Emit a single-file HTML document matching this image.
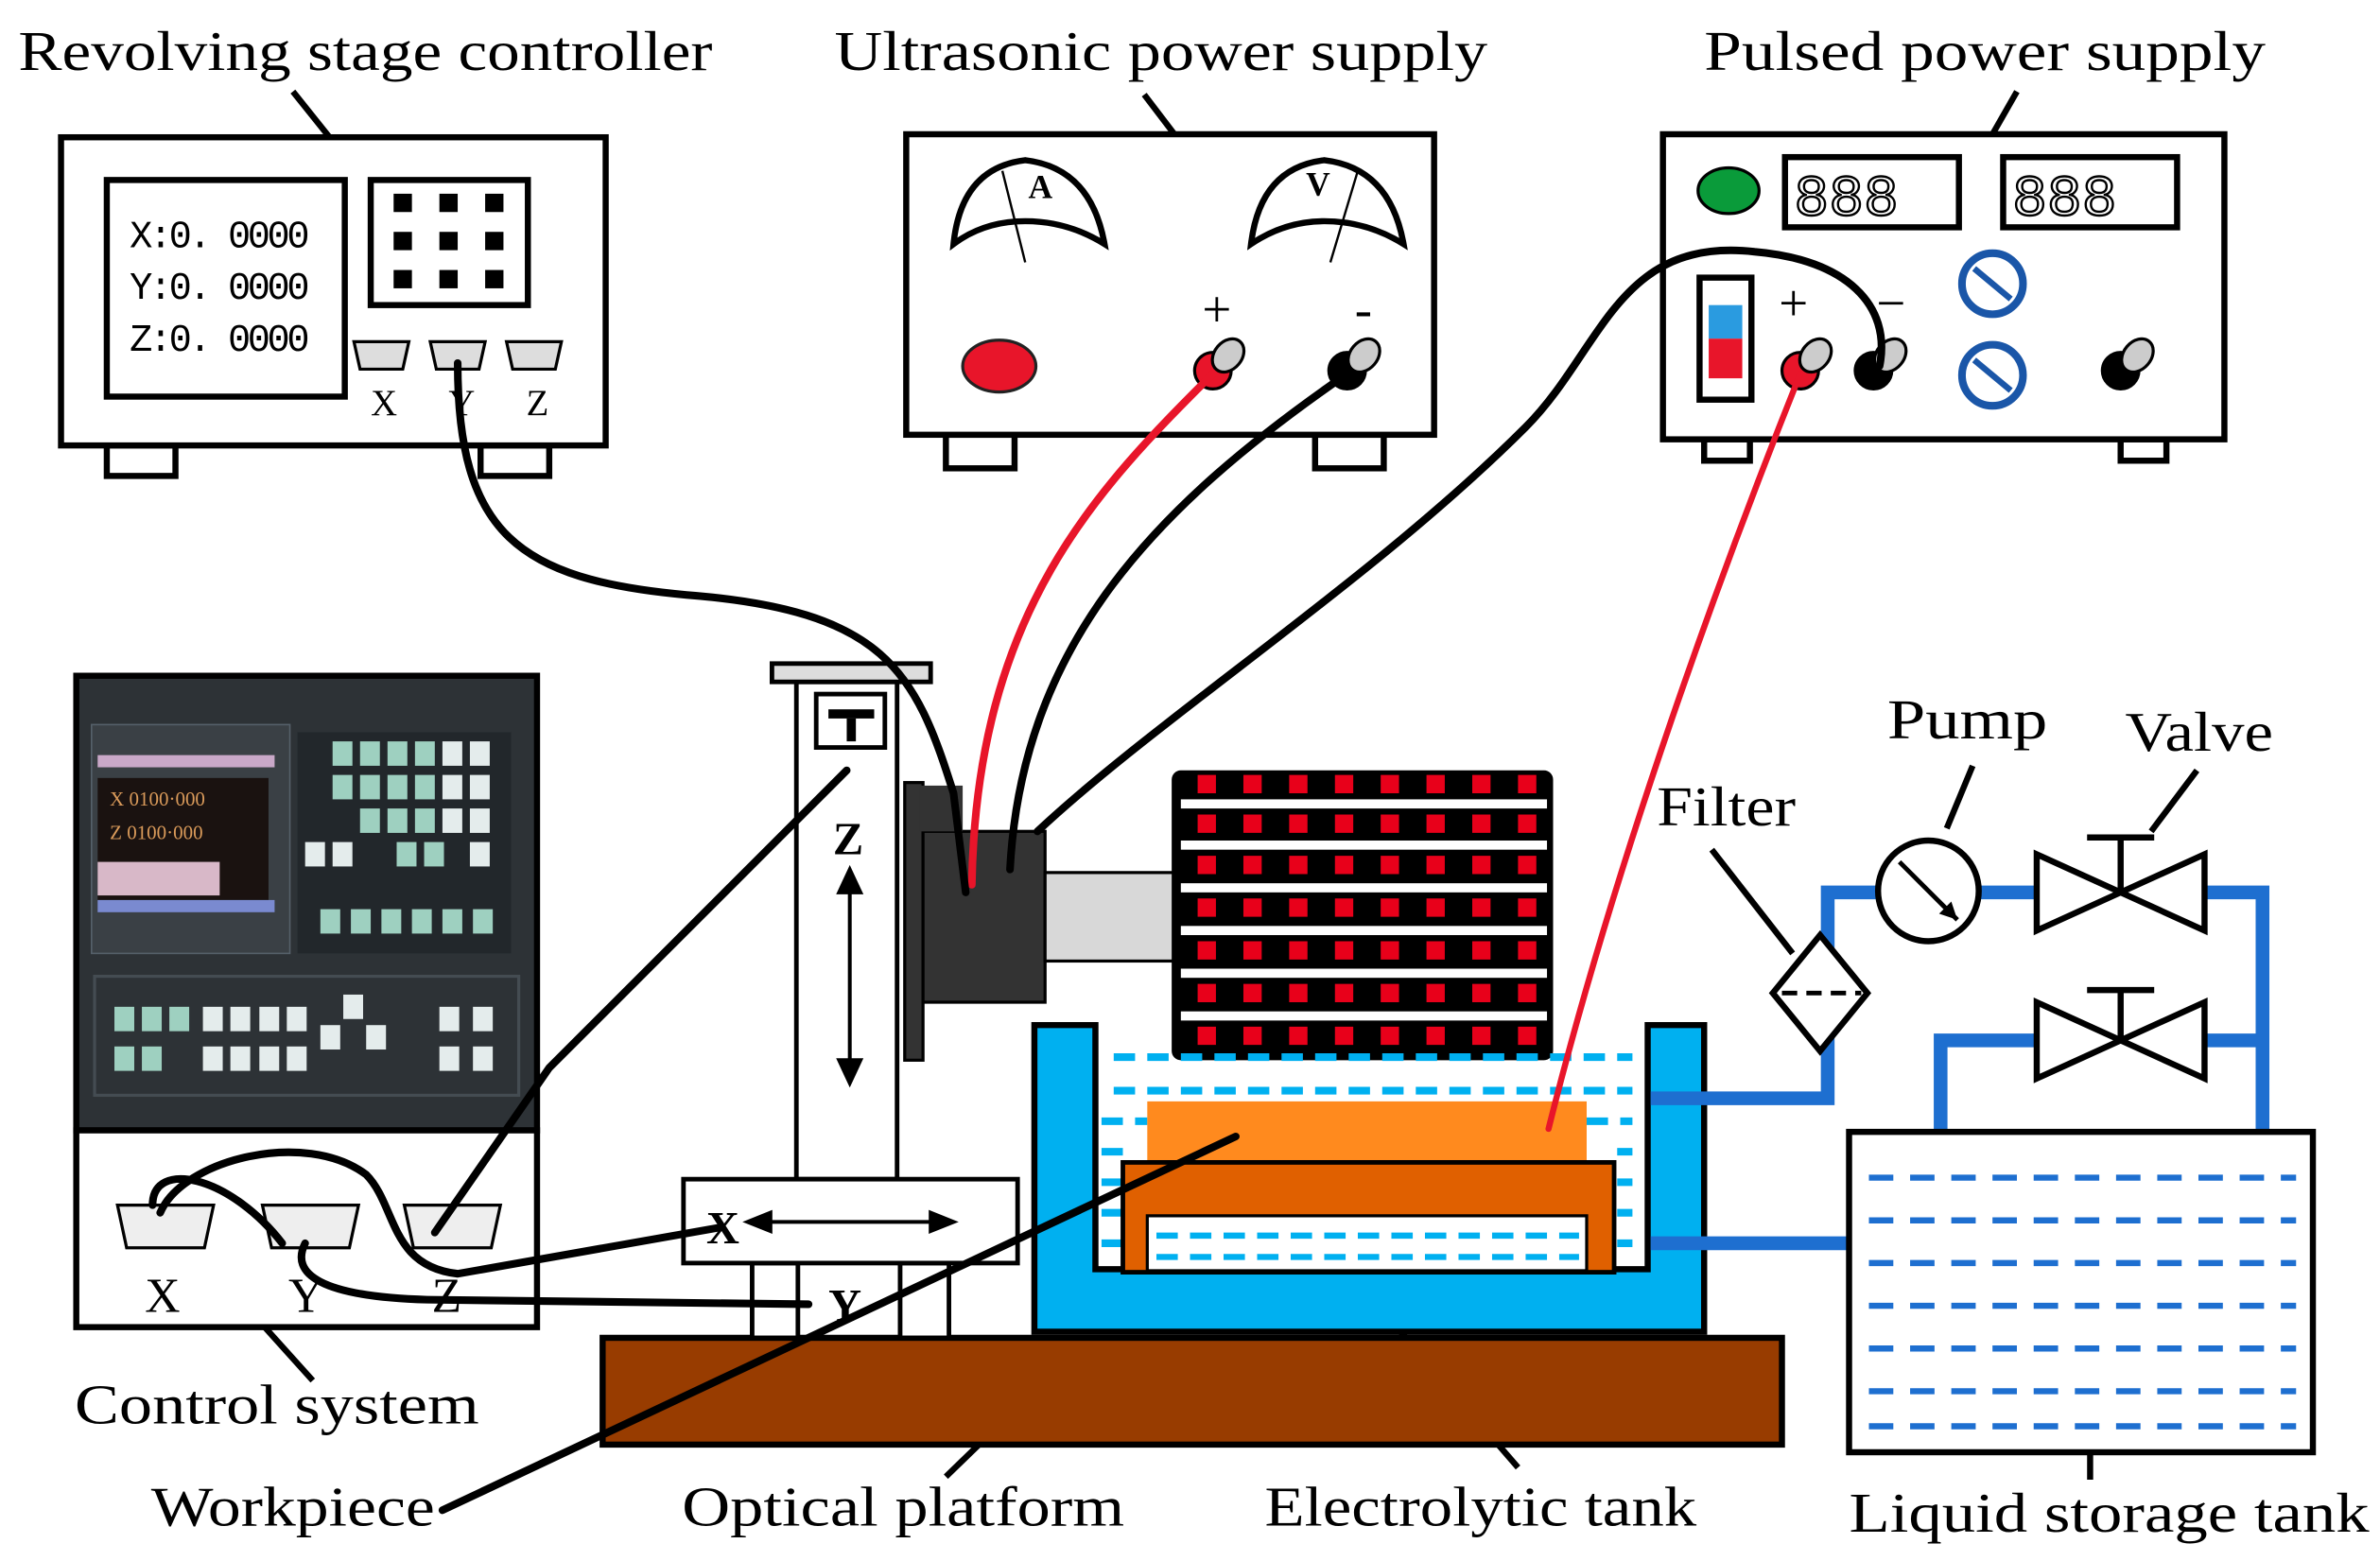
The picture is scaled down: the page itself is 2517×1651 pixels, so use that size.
<!DOCTYPE html>
<html><head><meta charset="utf-8"><style>
html,body{margin:0;padding:0;background:#fff;}
svg{display:block;}
text{font-family:"Liberation Serif",serif;}
</style></head><body>
<svg width="2517" height="1651" viewBox="0 0 1560 1023.3" preserveAspectRatio="none" xmlns="http://www.w3.org/2000/svg">
<rect width="1560" height="1024" fill="#fff"/>
<!-- Labels -->
<g font-size="37" fill="#000">
<text x="12" y="46" textLength="455" lengthAdjust="spacingAndGlyphs">Revolving stage controller</text>
<text x="547" y="46" textLength="428" lengthAdjust="spacingAndGlyphs">Ultrasonic power supply</text>
<text x="1117" y="46" textLength="368" lengthAdjust="spacingAndGlyphs">Pulsed power supply</text>
<text x="49" y="933" textLength="265" lengthAdjust="spacingAndGlyphs">Control system</text>
<text x="99" y="1000" textLength="186" lengthAdjust="spacingAndGlyphs">Workpiece</text>
<text x="447" y="1000" textLength="290" lengthAdjust="spacingAndGlyphs">Optical platform</text>
<text x="829" y="1000" textLength="283" lengthAdjust="spacingAndGlyphs">Electrolytic tank</text>
<text x="1212" y="1004" textLength="341" lengthAdjust="spacingAndGlyphs">Liquid storage tank</text>
<text x="1086" y="541" textLength="91" lengthAdjust="spacingAndGlyphs">Filter</text>
<text x="1237" y="484" textLength="105" lengthAdjust="spacingAndGlyphs">Pump</text>
<text x="1393" y="492" textLength="97" lengthAdjust="spacingAndGlyphs">Valve</text>
</g>
<g stroke="#000" stroke-width="4" fill="none">
<line x1="192" y1="60" x2="228" y2="105"/>
<line x1="750" y1="62" x2="785" y2="108"/>
<line x1="1322" y1="60" x2="1298" y2="102"/>
<line x1="160" y1="855" x2="205" y2="905"/>
<line x1="620" y1="968" x2="685" y2="905"/>
<line x1="995" y1="962" x2="898" y2="850"/>
<line x1="1370" y1="970" x2="1370" y2="922"/>
<line x1="1175" y1="625" x2="1122" y2="557"/>
<line x1="1276" y1="543" x2="1293" y2="502"/>
<line x1="1410" y1="545" x2="1440" y2="505"/>
</g>
<!-- Revolving stage controller -->
<g stroke="#000" stroke-width="4" fill="#fff">
<rect x="70" y="292" width="45" height="20"/><rect x="315" y="292" width="45" height="20"/>
<rect x="40" y="90" width="357" height="202"/>
<rect x="70" y="118" width="156" height="142"/>
<rect x="243" y="118" width="103" height="82"/>
</g>
<g fill="#000">
<rect x="258" y="127" width="12" height="12"/><rect x="288" y="127" width="12" height="12"/><rect x="318" y="127" width="12" height="12"/>
<rect x="258" y="152" width="12" height="12"/><rect x="288" y="152" width="12" height="12"/><rect x="318" y="152" width="12" height="12"/>
<rect x="258" y="177" width="12" height="12"/><rect x="288" y="177" width="12" height="12"/><rect x="318" y="177" width="12" height="12"/>
</g>
<g font-size="25" fill="#000">
<text x="85" y="162" textLength="118" style="font-family:'Liberation Mono',monospace">X:0. 0000</text>
<text x="85" y="196" textLength="118" style="font-family:'Liberation Mono',monospace">Y:0. 0000</text>
<text x="85" y="230" textLength="118" style="font-family:'Liberation Mono',monospace">Z:0. 0000</text>
</g>
<g fill="#ddd" stroke="#000" stroke-width="2">
<path d="M232 224 h36 l-4 18 h-28z"/><path d="M282 224 h36 l-4 18 h-28z"/><path d="M332 224 h36 l-4 18 h-28z"/>
</g>
<g font-size="24"><text x="243" y="272">X</text><text x="345" y="272">Z</text><text x="294" y="272">Y</text></g>
<!-- Ultrasonic PSU -->
<g stroke="#000" stroke-width="4" fill="#fff">
<rect x="620" y="285" width="45" height="22"/><rect x="862" y="285" width="45" height="22"/>
<rect x="594" y="88" width="346" height="197"/>
<path d="M625 160 Q630 110 672 105 Q715 110 724 160 Q700 145 672 145 Q645 145 625 160z"/>
<path d="M820 160 Q826 110 868 105 Q911 110 920 160 Q896 145 868 145 Q842 145 820 160z"/>
</g>
<g stroke="#000" stroke-width="1.5"><line x1="672" y1="172" x2="657" y2="112"/><line x1="872" y1="172" x2="890" y2="112"/></g>
<text x="674" y="130" font-size="22" font-weight="bold">A</text><text x="856" y="128" font-size="22" font-weight="bold">V</text>
<ellipse cx="655" cy="240" rx="24" ry="17" fill="#e8152a" stroke="#222" stroke-width="2"/>
<text x="788" y="214" font-size="34">+</text><text x="888" y="214" font-size="34">-</text>
<!-- Pulsed PSU -->
<g stroke="#000" stroke-width="4" fill="#fff">
<rect x="1117" y="288" width="30" height="14"/><rect x="1390" y="288" width="30" height="14"/>
<rect x="1090" y="88" width="368" height="200"/>
<rect x="1170" y="103" width="114" height="46"/><rect x="1313" y="103" width="114" height="46"/>
<rect x="1114" y="182" width="34" height="80"/>
</g>
<g font-size="38" fill="none" stroke="#000" stroke-width="1.5">
<text x="1176" y="141" style="font-family:'Liberation Mono',monospace">888</text>
<text x="1319" y="141" style="font-family:'Liberation Mono',monospace">888</text>
</g>
<rect x="1120" y="200" width="22" height="22" fill="#2a9be0"/><rect x="1120" y="222" width="22" height="26" fill="#e8152a"/>
<ellipse cx="1133" cy="125" rx="20" ry="15" fill="#0a9b3a" stroke="#000" stroke-width="2"/>
<text x="1166" y="210" font-size="34">+</text><text x="1230" y="210" font-size="34">−</text>
<g fill="#fff" stroke="#1a56a8" stroke-width="5">
<circle cx="1306" cy="186" r="20"/><circle cx="1306" cy="246" r="20"/>
</g>
<g stroke="#1a56a8" stroke-width="4"><line x1="1294" y1="176" x2="1318" y2="196"/><line x1="1294" y1="236" x2="1318" y2="256"/></g>
<!-- terminals -->
<g stroke="#000" stroke-width="2">
<ellipse cx="795" cy="243" rx="12" ry="12" fill="#e8152a"/><ellipse cx="805" cy="233" rx="9" ry="12" fill="#ccc" transform="rotate(40 805 233)"/>
<ellipse cx="883" cy="243" rx="12" ry="12" fill="#000"/><ellipse cx="894" cy="233" rx="9" ry="12" fill="#ccc" transform="rotate(40 894 233)"/>
<ellipse cx="1180" cy="243" rx="12" ry="12" fill="#e8152a"/><ellipse cx="1190" cy="233" rx="9" ry="12" fill="#ccc" transform="rotate(40 1190 233)"/>
<ellipse cx="1228" cy="243" rx="12" ry="12" fill="#000"/><ellipse cx="1239" cy="233" rx="9" ry="12" fill="#ccc" transform="rotate(40 1239 233)"/>
<ellipse cx="1390" cy="243" rx="12" ry="12" fill="#000"/><ellipse cx="1401" cy="233" rx="9" ry="12" fill="#ccc" transform="rotate(40 1401 233)"/>
</g>
<!-- Control system -->
<rect x="50" y="443" width="302" height="298" fill="#2d3236" stroke="#000" stroke-width="4"/>
<rect x="60" y="475" width="130" height="150" fill="#3a4045" stroke="#55606a"/>
<rect x="64" y="510" width="112" height="80" fill="#1a1210"/>
<text x="72" y="528" font-size="13" fill="#d99a5a">X  0100·000</text><text x="72" y="550" font-size="13" fill="#d99a5a">Z  0100·000</text>
<rect x="64" y="565" width="80" height="22" fill="#d8b8c8"/>
<rect x="64" y="495" width="116" height="8" fill="#c9a8c8"/>
<rect x="64" y="590" width="116" height="8" fill="#7a8ad0"/>
<rect x="195" y="480" width="140" height="145" fill="#22272b"/>
<g fill="#9ed0c0"><rect x="218" y="486" width="13" height="16"/><rect x="236" y="486" width="13" height="16"/><rect x="254" y="486" width="13" height="16"/><rect x="272" y="486" width="13" height="16"/>
<rect x="218" y="508" width="13" height="16"/><rect x="236" y="508" width="13" height="16"/><rect x="254" y="508" width="13" height="16"/><rect x="272" y="508" width="13" height="16"/>
<rect x="236" y="530" width="13" height="16"/><rect x="254" y="530" width="13" height="16"/><rect x="272" y="530" width="13" height="16"/>
<rect x="260" y="552" width="13" height="16"/><rect x="278" y="552" width="13" height="16"/>
<rect x="210" y="596" width="13" height="16"/><rect x="230" y="596" width="13" height="16"/><rect x="250" y="596" width="13" height="16"/><rect x="270" y="596" width="13" height="16"/><rect x="290" y="596" width="13" height="16"/><rect x="310" y="596" width="13" height="16"/>
<rect x="75" y="660" width="13" height="16"/><rect x="93" y="660" width="13" height="16"/><rect x="111" y="660" width="13" height="16"/><rect x="75" y="686" width="13" height="16"/><rect x="93" y="686" width="13" height="16"/></g>
<g fill="#e4ecec"><rect x="290" y="486" width="13" height="16"/><rect x="308" y="486" width="13" height="16"/><rect x="290" y="508" width="13" height="16"/><rect x="308" y="508" width="13" height="16"/><rect x="290" y="530" width="13" height="16"/><rect x="308" y="530" width="13" height="16"/><rect x="200" y="552" width="13" height="16"/><rect x="218" y="552" width="13" height="16"/><rect x="308" y="552" width="13" height="16"/>
<rect x="133" y="660" width="13" height="16"/><rect x="151" y="660" width="13" height="16"/><rect x="170" y="660" width="13" height="16"/><rect x="188" y="660" width="13" height="16"/><rect x="225" y="652" width="13" height="16"/><rect x="288" y="660" width="13" height="16"/><rect x="310" y="660" width="13" height="16"/><rect x="210" y="672" width="13" height="16"/><rect x="240" y="672" width="13" height="16"/>
<rect x="133" y="686" width="13" height="16"/><rect x="151" y="686" width="13" height="16"/><rect x="170" y="686" width="13" height="16"/><rect x="188" y="686" width="13" height="16"/><rect x="288" y="686" width="13" height="16"/><rect x="310" y="686" width="13" height="16"/></g>
<rect x="62" y="640" width="278" height="78" fill="none" stroke="#444c52" stroke-width="2"/>
<rect x="50" y="741" width="302" height="129" fill="#fff" stroke="#000" stroke-width="4"/>
<g fill="#eee" stroke="#000" stroke-width="2">
<path d="M77 790 h63 l-6 28 h-51z"/><path d="M172 790 h63 l-6 28 h-51z"/><path d="M265 790 h63 l-6 28 h-51z"/>
</g>
<g font-size="32"><text x="95" y="860">X</text><text x="189" y="860">Y</text><text x="283" y="860">Z</text></g>
<!-- Optical platform -->
<rect x="395" y="877" width="773" height="70" fill="#983c00" stroke="#000" stroke-width="4"/>
<!-- Z column -->
<g stroke="#000" stroke-width="3" fill="#fff">
<rect x="493" y="828" width="30" height="49"/><rect x="590" y="828" width="32" height="49"/>
<rect x="522" y="447" width="66" height="326"/>
<rect x="506" y="435" width="104" height="12" fill="#ddd"/>
<rect x="535" y="455" width="45" height="35"/>
<rect x="448" y="773" width="219" height="55"/>
</g>
<rect x="543" y="465" width="30" height="6" fill="#000"/><rect x="555" y="471" width="6" height="15" fill="#000"/>
<text x="546" y="560" font-size="30" font-weight="bold">Z</text>
<g stroke="#000" stroke-width="2.5" fill="#000">
<line x1="557" y1="580" x2="557" y2="700"/><path d="M550 585 L557 570 L564 585z"/><path d="M550 695 L557 710 L564 695z"/>
<line x1="500" y1="801" x2="615" y2="801"/><path d="M505 795 L490 801 L505 807z"/><path d="M610 795 L625 801 L610 807z"/>
</g>
<text x="463" y="815" font-size="30" font-weight="bold">X</text>
<text x="543" y="866" font-size="30" font-weight="bold">Y</text>
<!-- Transducer -->
<rect x="593" y="513" width="12" height="182" fill="#333" stroke="#000" stroke-width="2"/>
<rect x="605" y="545" width="80" height="112" fill="#333" stroke="#000" stroke-width="2"/>
<rect x="603" y="515" width="28" height="30" fill="#333"/>
<rect x="685" y="572" width="85" height="58" fill="#d8d8d8" stroke="#000" stroke-width="2"/>
<rect x="768" y="505" width="250" height="190" fill="#000" rx="6"/>
<g fill="#fff">
<rect x="774" y="524" width="240" height="6"/><rect x="774" y="551" width="240" height="6"/><rect x="774" y="579" width="240" height="6"/><rect x="774" y="607" width="240" height="6"/><rect x="774" y="635" width="240" height="6"/><rect x="774" y="663" width="240" height="6"/>
</g>
<g fill="#e8001a">
<path d="M785 508 h12 v12 h-12z M815 508 h12 v12 h-12z M845 508 h12 v12 h-12z M875 508 h12 v12 h-12z M905 508 h12 v12 h-12z M935 508 h12 v12 h-12z M965 508 h12 v12 h-12z M995 508 h12 v12 h-12z"/>
<path d="M785 534 h12 v12 h-12z M815 534 h12 v12 h-12z M845 534 h12 v12 h-12z M875 534 h12 v12 h-12z M905 534 h12 v12 h-12z M935 534 h12 v12 h-12z M965 534 h12 v12 h-12z M995 534 h12 v12 h-12z"/>
<path d="M785 561 h12 v12 h-12z M815 561 h12 v12 h-12z M845 561 h12 v12 h-12z M875 561 h12 v12 h-12z M905 561 h12 v12 h-12z M935 561 h12 v12 h-12z M965 561 h12 v12 h-12z M995 561 h12 v12 h-12z"/>
<path d="M785 589 h12 v12 h-12z M815 589 h12 v12 h-12z M845 589 h12 v12 h-12z M875 589 h12 v12 h-12z M905 589 h12 v12 h-12z M935 589 h12 v12 h-12z M965 589 h12 v12 h-12z M995 589 h12 v12 h-12z"/>
<path d="M785 617 h12 v12 h-12z M815 617 h12 v12 h-12z M845 617 h12 v12 h-12z M875 617 h12 v12 h-12z M905 617 h12 v12 h-12z M935 617 h12 v12 h-12z M965 617 h12 v12 h-12z M995 617 h12 v12 h-12z"/>
<path d="M785 645 h12 v12 h-12z M815 645 h12 v12 h-12z M845 645 h12 v12 h-12z M875 645 h12 v12 h-12z M905 645 h12 v12 h-12z M935 645 h12 v12 h-12z M965 645 h12 v12 h-12z M995 645 h12 v12 h-12z"/>
<path d="M785 673 h12 v12 h-12z M815 673 h12 v12 h-12z M845 673 h12 v12 h-12z M875 673 h12 v12 h-12z M905 673 h12 v12 h-12z M935 673 h12 v12 h-12z M965 673 h12 v12 h-12z M995 673 h12 v12 h-12z"/>
</g>
<!-- Electrolytic tank -->
<path d="M678 672 h40 v160 h362 v-160 h37 v201 h-439z" fill="#00b0f0" stroke="#000" stroke-width="4"/>
<g stroke="#00b0f0" stroke-width="5" stroke-dasharray="14 8">
<line x1="730" y1="693" x2="1070" y2="693"/><line x1="730" y1="715" x2="1070" y2="715"/>
<line x1="722" y1="735" x2="752" y2="735"/><line x1="1040" y1="735" x2="1070" y2="735"/>
<line x1="722" y1="755" x2="736" y2="755"/><line x1="1060" y1="755" x2="1070" y2="755"/>
<line x1="722" y1="775" x2="736" y2="775"/><line x1="1060" y1="775" x2="1070" y2="775"/>
<line x1="722" y1="795" x2="736" y2="795"/><line x1="1060" y1="795" x2="1070" y2="795"/>
<line x1="722" y1="815" x2="736" y2="815"/><line x1="1060" y1="815" x2="1070" y2="815"/>
</g>
<rect x="752" y="722" width="288" height="40" fill="#ff8a1e"/>
<rect x="736" y="762" width="322" height="72" fill="#e06000" stroke="#000" stroke-width="3"/>
<rect x="752" y="797" width="288" height="36" fill="#fff" stroke="#000" stroke-width="2"/>
<g stroke="#00b0f0" stroke-width="4" stroke-dasharray="14 8"><line x1="758" y1="810" x2="1035" y2="810"/><line x1="758" y1="824" x2="1035" y2="824"/></g>
<!-- Pipes -->
<g stroke="#1e6fd0" stroke-width="9" fill="none">
<path d="M1082 720 H1198 V585 H1232"/>
<path d="M1297 585 H1335"/><path d="M1445 585 H1483 V742"/>
<path d="M1335 682 H1272 V742"/><path d="M1445 682 H1483"/>
<path d="M1082 815 H1215"/>
</g>
<rect x="1212" y="742" width="304" height="210" fill="#fff" stroke="#000" stroke-width="4"/>
<g stroke="#1e6fd0" stroke-width="4" stroke-dasharray="16 11">
<line x1="1225" y1="772" x2="1505" y2="772"/><line x1="1225" y1="800" x2="1505" y2="800"/><line x1="1225" y1="828" x2="1505" y2="828"/>
<line x1="1225" y1="856" x2="1505" y2="856"/><line x1="1225" y1="884" x2="1505" y2="884"/><line x1="1225" y1="912" x2="1505" y2="912"/><line x1="1225" y1="935" x2="1505" y2="935"/>
</g>
<!-- filter -->
<path d="M1193 613 L1224 651 L1193 689 L1162 651z" fill="#fff" stroke="#000" stroke-width="4"/>
<line x1="1168" y1="651" x2="1220" y2="651" stroke="#000" stroke-width="3" stroke-dasharray="10 6"/>
<!-- pump -->
<circle cx="1264" cy="584" r="33" fill="#fff" stroke="#000" stroke-width="4"/>
<line x1="1245" y1="565" x2="1283" y2="603" stroke="#000" stroke-width="3"/><path d="M1283 603 l-4 -12 l-8 8z" fill="#000"/>
<!-- valves -->
<g fill="#fff" stroke="#000" stroke-width="4">
<path d="M1335 560 L1445 610 V560 L1335 610z"/><path d="M1335 657 L1445 707 V657 L1335 707z"/>
<line x1="1390" y1="585" x2="1390" y2="549"/><line x1="1368" y1="549" x2="1412" y2="549"/>
<line x1="1390" y1="682" x2="1390" y2="649"/><line x1="1368" y1="649" x2="1412" y2="649"/>
</g>
<!-- Cables -->
<g fill="none" stroke-linecap="round">
<path d="M795 245 C720 320 640 400 637 580" stroke="#e8152a" stroke-width="5"/>
<path d="M1180 245 C1130 370 1060 560 1015 740" stroke="#e8152a" stroke-width="4"/>
<g stroke="#000" stroke-width="5">
<path d="M883 245 C760 330 670 420 662 570"/>
<path d="M1232 240 C1240 200 1210 170 1150 165 C1060 155 1050 230 1000 280 C900 380 760 470 680 545"/>
<path d="M300 238 C300 350 340 380 450 390 C580 400 600 440 625 520 L633 585"/>
<path d="M555 505 L360 700 L285 808"/>
<path d="M185 815 C150 770 100 760 100 790 M105 795 C120 760 200 740 240 770 C260 790 255 830 300 835 L470 805"/>
<path d="M200 815 C190 835 210 850 280 852 L530 855"/>
<path d="M810 745 L290 990"/>
</g>
</g>
</svg>
</body></html>
